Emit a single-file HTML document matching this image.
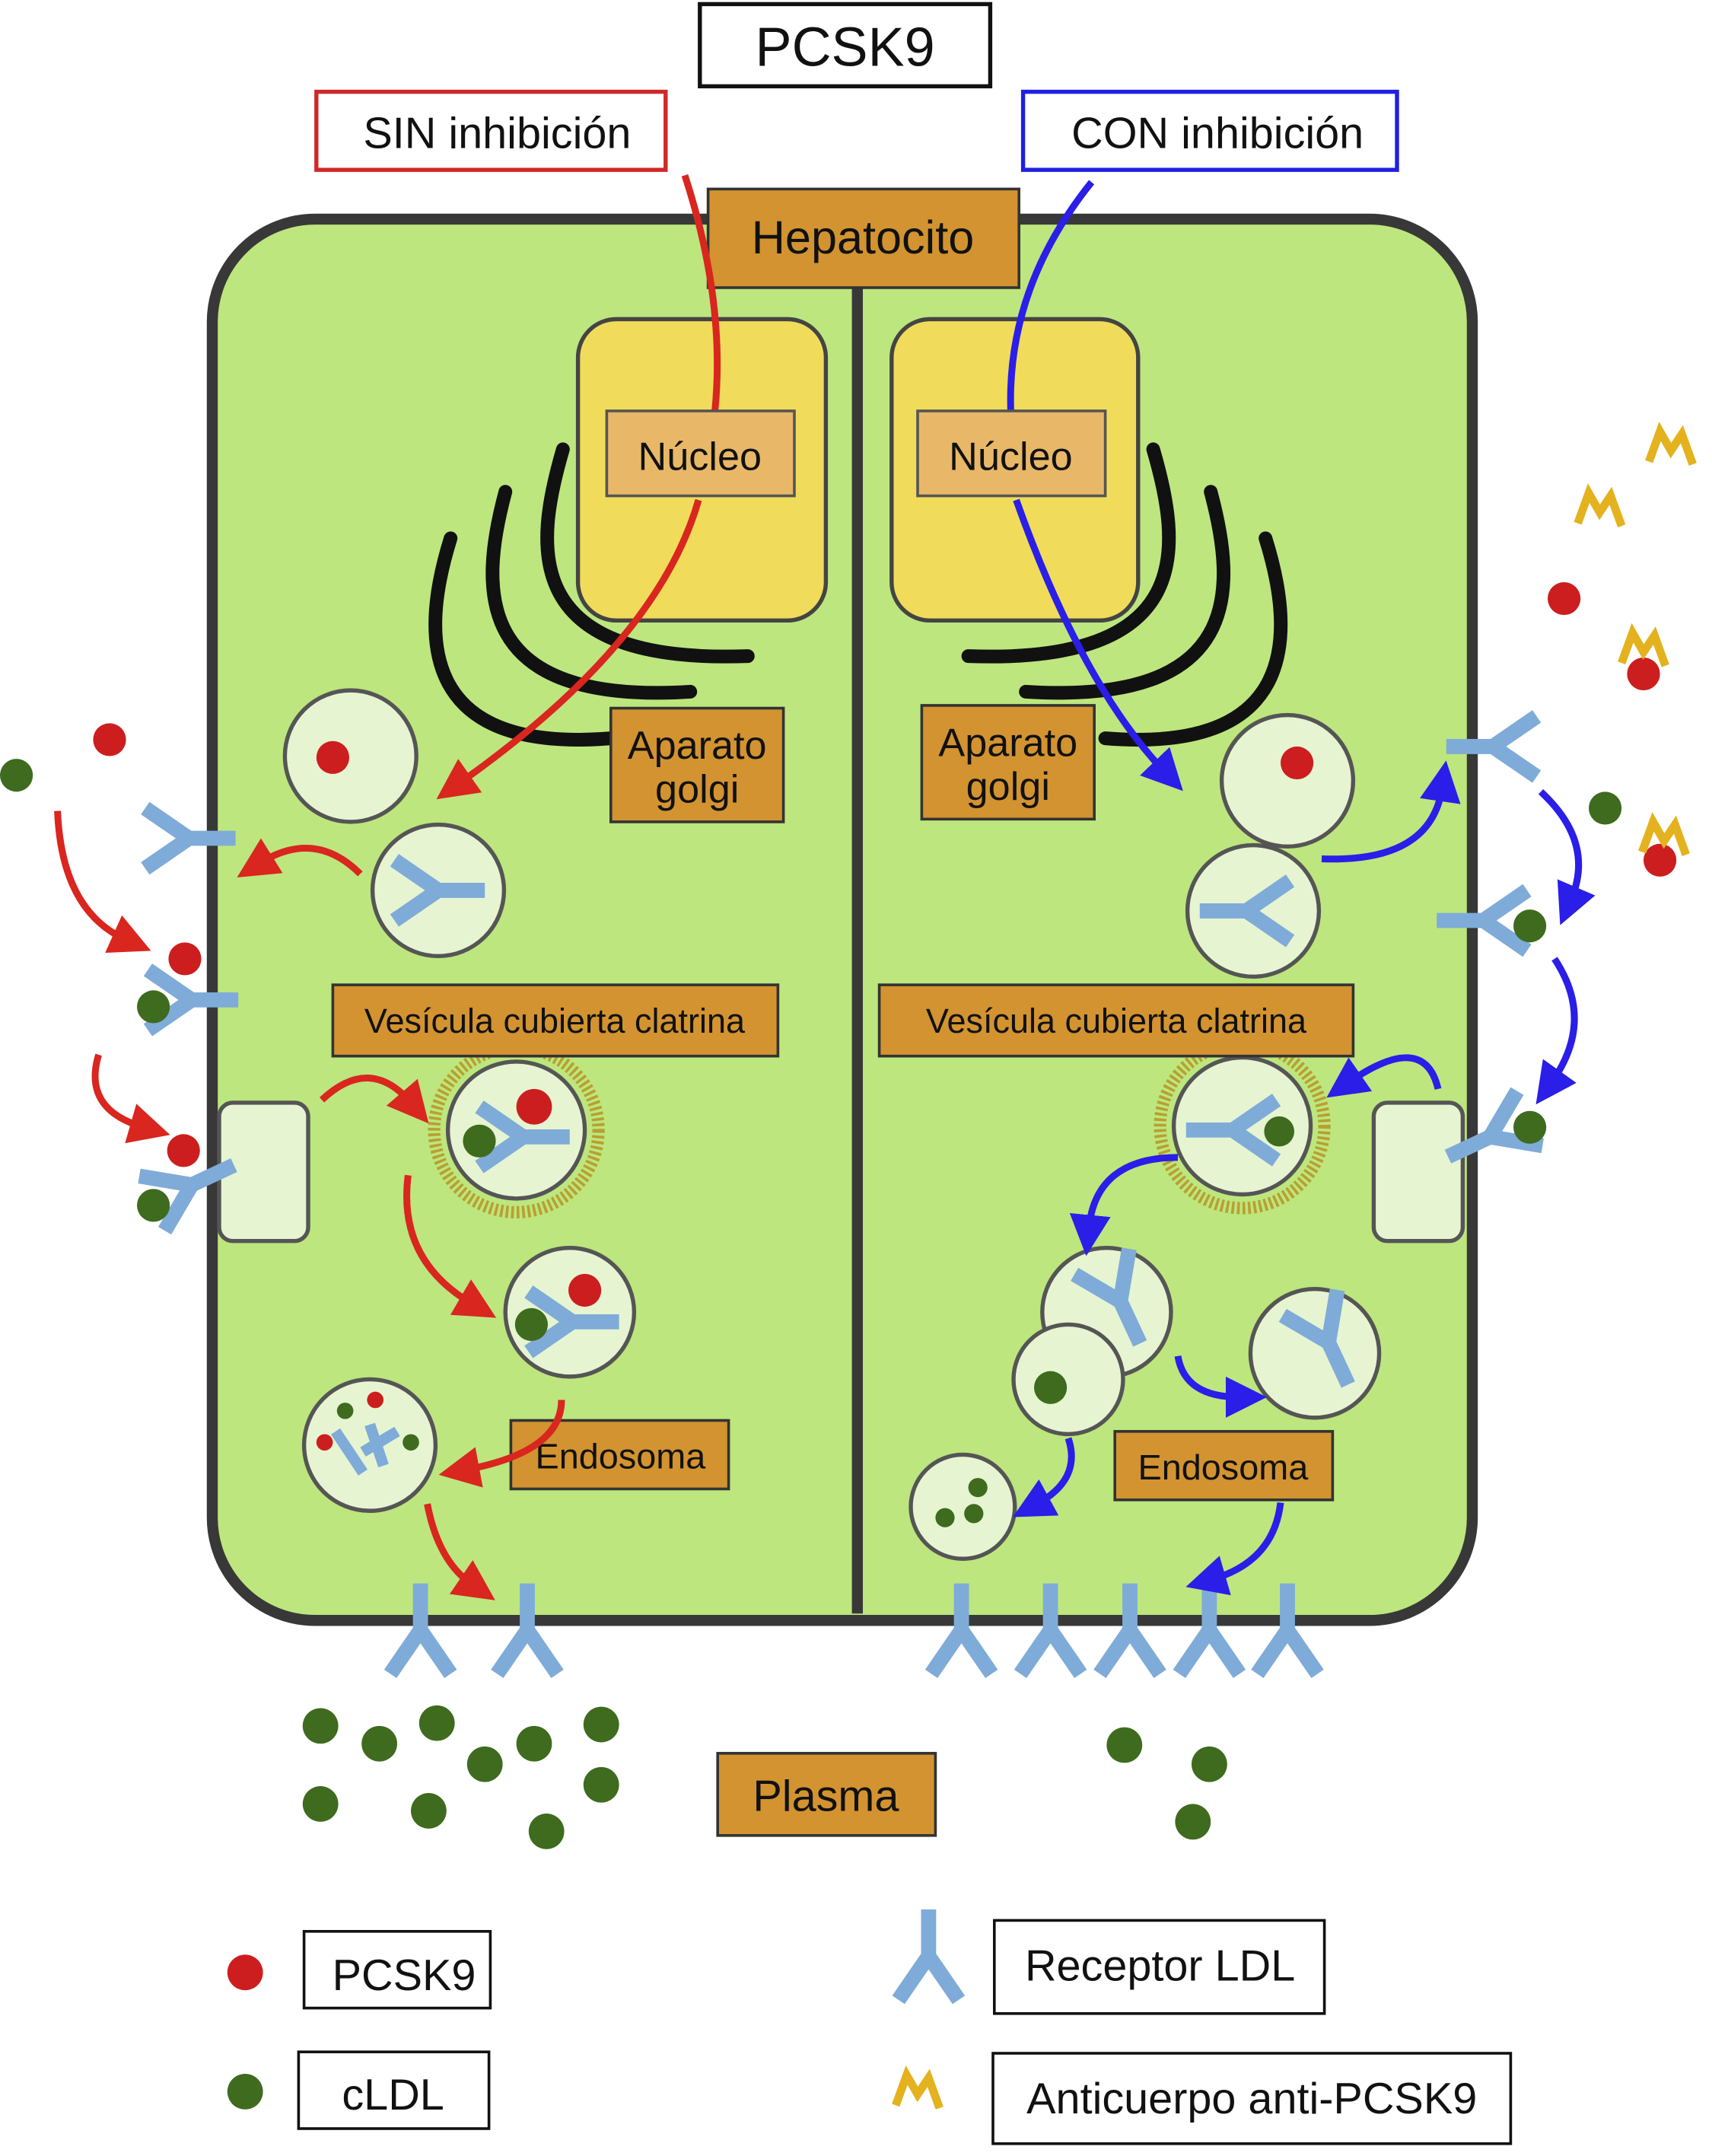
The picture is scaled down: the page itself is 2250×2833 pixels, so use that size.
<!DOCTYPE html>
<html><head><meta charset="utf-8"><style>html,body{margin:0;padding:0;background:#fff}svg{display:block}text{font-family:"Liberation Sans",sans-serif;fill:#111}</style></head><body>
<svg width="2250" height="2833" viewBox="0 0 1250 1574" preserveAspectRatio="none" xmlns="http://www.w3.org/2000/svg">
<defs>
<marker id="ar" markerWidth="6" markerHeight="6" refX="2" refY="3" orient="auto" markerUnits="strokeWidth"><path d="M0,0 L6,3 L0,6 z" fill="#d9261f"/></marker>
<marker id="ab" markerWidth="6" markerHeight="6" refX="2" refY="3" orient="auto" markerUnits="strokeWidth"><path d="M0,0 L6,3 L0,6 z" fill="#2a1ee8"/></marker>
<g id="rc"><path d="M0,-34 L0,0 M0,0 L-22,32 M0,0 L22,32" stroke="#7fabd8" stroke-width="11" fill="none"/></g>
<g id="ab1"><path d="M-16,12 L-8,-10 L0,4 L8,-8 L16,14" stroke="#e3b21e" stroke-width="6" fill="none" stroke-linejoin="miter"/></g>
</defs>
<rect x="511" y="3" width="212" height="60" fill="#fff" stroke="#111" stroke-width="3"/>
<text x="617" y="48" font-size="40" text-anchor="middle">PCSK9</text>
<rect x="231" y="67" width="255" height="57" fill="#fff" stroke="#d02828" stroke-width="3"/>
<text x="363" y="108" font-size="32" text-anchor="middle">SIN inhibición</text>
<rect x="747" y="67" width="273" height="57" fill="#fff" stroke="#2020e0" stroke-width="3"/>
<text x="889" y="108" font-size="32" text-anchor="middle">CON inhibición</text>
<rect x="155" y="160" width="920" height="1023" rx="75" fill="#bde67e" stroke="#383838" stroke-width="8"/>
<line x1="626" y1="205" x2="626" y2="1178" stroke="#383838" stroke-width="8"/>
<rect x="517" y="138" width="227" height="72" fill="#d29330" stroke="#333" stroke-width="2"/>
<text x="630" y="185" font-size="34" text-anchor="middle">Hepatocito</text>
<rect x="422" y="233" width="181" height="220" rx="28" fill="#f0dc5a" stroke="#444" stroke-width="3"/>
<rect x="651" y="233" width="180" height="220" rx="28" fill="#f0dc5a" stroke="#444" stroke-width="3"/>
<path d="M500,128 Q530,220 522,300" fill="none" stroke="#d9261f" stroke-width="5"/>
<path d="M797,133 Q735,210 738,300" fill="none" stroke="#2a1ee8" stroke-width="5"/>
<rect x="443" y="300" width="137" height="62" fill="#e8b868" stroke="#555" stroke-width="2"/>
<rect x="670" y="300" width="137" height="62" fill="#e8b868" stroke="#555" stroke-width="2"/>
<text x="511" y="343" font-size="29" text-anchor="middle">Núcleo</text>
<text x="738" y="343" font-size="29" text-anchor="middle">Núcleo</text>
<g stroke="#111" stroke-width="10" fill="none" stroke-linecap="round">
<path d="M411,328 C390,400 380,485 546,479"/>
<path d="M369,359 C350,430 345,515 504,505"/>
<path d="M329,393 C305,470 310,550 446,539"/>
<path d="M842,328 C863,400 873,485 707,479"/>
<path d="M884,359 C903,430 908,515 749,505"/>
<path d="M924,393 C948,470 943,550 807,539"/>
</g>
<rect x="446" y="517" width="126" height="83" fill="#d29330" stroke="#333" stroke-width="2"/>
<text x="509" y="554" font-size="29" text-anchor="middle">Aparato</text><text x="509" y="586" font-size="29" text-anchor="middle">golgi</text>
<rect x="673" y="515" width="126" height="83" fill="#d29330" stroke="#333" stroke-width="2"/>
<text x="736" y="552" font-size="29" text-anchor="middle">Aparato</text><text x="736" y="584" font-size="29" text-anchor="middle">golgi</text>
<g fill="#e6f4d2" stroke="#555" stroke-width="3">
<circle cx="256" cy="552" r="48"/><circle cx="320" cy="650" r="48"/>
<circle cx="940" cy="570" r="48"/><circle cx="915" cy="665" r="48"/>
<circle cx="416" cy="958" r="47"/><circle cx="270" cy="1055" r="48"/>
<circle cx="808" cy="958" r="47"/><circle cx="960" cy="988" r="47"/><circle cx="780" cy="1007" r="40"/><circle cx="703" cy="1100" r="38"/>
<rect x="160" y="805" width="65" height="101" rx="10"/><rect x="1003" y="805" width="65" height="101" rx="10"/>
</g>
<g fill="none" stroke="#b8a030" stroke-width="9" stroke-dasharray="2 2"><circle cx="377" cy="825" r="60"/><circle cx="907" cy="822" r="60"/></g>
<circle cx="377" cy="825" r="50" fill="#e6f4d2" stroke="#555" stroke-width="3"/>
<circle cx="907" cy="822" r="50" fill="#e6f4d2" stroke="#555" stroke-width="3"/>
<rect x="243" y="719" width="325" height="52" fill="#d29330" stroke="#333" stroke-width="2"/>
<text x="405" y="754" font-size="25" text-anchor="middle">Vesícula cubierta clatrina</text>
<rect x="642" y="719" width="346" height="52" fill="#d29330" stroke="#333" stroke-width="2"/>
<text x="815" y="754" font-size="25" text-anchor="middle">Vesícula cubierta clatrina</text>
<rect x="373" y="1037" width="159" height="50" fill="#d29330" stroke="#333" stroke-width="2"/>
<text x="453" y="1072" font-size="26" text-anchor="middle">Endosoma</text>
<rect x="814" y="1045" width="159" height="50" fill="#d29330" stroke="#333" stroke-width="2"/>
<text x="893" y="1080" font-size="26" text-anchor="middle">Endosoma</text>
<use href="#rc" transform="translate(320,650) rotate(90)"/>
<use href="#rc" transform="translate(910,665) rotate(-90)"/>
<use href="#rc" transform="translate(382,830) rotate(90)"/>
<use href="#rc" transform="translate(900,825) rotate(-90)"/>
<use href="#rc" transform="translate(418,965) rotate(90)"/>
<use href="#rc" transform="translate(818,950) rotate(155)"/>
<use href="#rc" transform="translate(970,980) rotate(155)"/>
<use href="#rc" transform="translate(138,612) rotate(90)"/>
<use href="#rc" transform="translate(140,730) rotate(90)"/>
<use href="#rc" transform="translate(140,865) rotate(65)"/>
<use href="#rc" transform="translate(1090,545) rotate(-90)"/>
<use href="#rc" transform="translate(1083,672) rotate(-90)"/>
<use href="#rc" transform="translate(1088,830) rotate(-115)"/>
<g><use href="#rc" transform="translate(307,1190)"/><use href="#rc" transform="translate(385,1190)"/>
<use href="#rc" transform="translate(702,1190)"/><use href="#rc" transform="translate(767,1190)"/><use href="#rc" transform="translate(825,1190)"/><use href="#rc" transform="translate(883,1190)"/><use href="#rc" transform="translate(940,1190)"/></g>
<g fill="#cc1e1e"><circle cx="243" cy="553" r="12"/><circle cx="947" cy="557" r="12"/><circle cx="390" cy="808" r="13"/><circle cx="427" cy="942" r="12"/><circle cx="80" cy="540" r="12"/><circle cx="135" cy="700" r="12"/><circle cx="134" cy="840" r="12"/><circle cx="1142" cy="437" r="12"/><circle cx="1200" cy="492" r="12"/><circle cx="1212" cy="628" r="12"/><circle cx="274" cy="1022" r="6"/><circle cx="237" cy="1053" r="6"/><circle cx="179" cy="1440" r="13"/></g>
<g fill="#3e6b1e"><circle cx="350" cy="833" r="12"/><circle cx="388" cy="967" r="12"/><circle cx="934" cy="826" r="11"/><circle cx="767" cy="1013" r="12"/><circle cx="690" cy="1108" r="7"/><circle cx="711" cy="1105" r="7"/><circle cx="714" cy="1086" r="7"/><circle cx="252" cy="1030" r="6"/><circle cx="300" cy="1053" r="6"/>
<circle cx="12" cy="566" r="12"/><circle cx="112" cy="735" r="12"/><circle cx="112" cy="880" r="12"/><circle cx="1172" cy="590" r="12"/><circle cx="1117" cy="676" r="12"/><circle cx="1117" cy="823" r="12"/>
<circle cx="234" cy="1260" r="13"/><circle cx="277" cy="1273" r="13"/><circle cx="319" cy="1258" r="13"/><circle cx="354" cy="1288" r="13"/><circle cx="390" cy="1273" r="13"/><circle cx="439" cy="1259" r="13"/><circle cx="234" cy="1317" r="13"/><circle cx="313" cy="1322" r="13"/><circle cx="399" cy="1337" r="13"/><circle cx="439" cy="1303" r="13"/>
<circle cx="821" cy="1274" r="13"/><circle cx="883" cy="1288" r="13"/><circle cx="871" cy="1330" r="13"/><circle cx="179" cy="1527" r="13"/></g>
<g stroke="#7fabd8" stroke-width="8"><line x1="245" y1="1045" x2="265" y2="1075"/><line x1="265" y1="1060" x2="290" y2="1045"/><line x1="270" y1="1040" x2="280" y2="1070"/></g>
<use href="#ab1" transform="translate(1220,325)"/><use href="#ab1" transform="translate(1168,370)"/><use href="#ab1" transform="translate(1200,472)"/><use href="#ab1" transform="translate(1215,610)"/><use href="#ab1" transform="translate(670,1525)"/>
<g fill="none" stroke="#d9261f" stroke-width="5" marker-end="url(#ar)">
<path d="M510,365 Q480,470 335,572"/>
<path d="M263,638 Q230,605 190,630"/><path d="M42,592 Q45,665 92,686"/>
<path d="M72,770 Q60,810 105,823"/><path d="M235,803 Q270,770 300,805"/>
<path d="M298,858 Q290,920 345,952"/><path d="M410,1022 Q410,1060 340,1073"/>
<path d="M312,1098 Q320,1140 345,1157"/>
</g>
<g fill="none" stroke="#2a1ee8" stroke-width="5" marker-end="url(#ab)">
<path d="M742,365 Q790,500 850,563"/>
<path d="M965,627 Q1045,630 1053,575"/><path d="M1125,578 Q1165,615 1147,657"/>
<path d="M1135,700 Q1165,745 1133,790"/><path d="M1050,795 Q1040,752 985,790"/>
<path d="M860,845 Q800,845 795,897"/><path d="M860,990 Q865,1020 905,1020"/>
<path d="M780,1050 Q790,1080 757,1098"/><path d="M935,1097 Q930,1140 885,1153"/>
</g>
<rect x="524" y="1280" width="159" height="60" fill="#d29330" stroke="#333" stroke-width="2"/>
<text x="603" y="1322" font-size="32" text-anchor="middle">Plasma</text>
<g fill="#fff" stroke="#111" stroke-width="2"><rect x="222" y="1410" width="136" height="56"/><rect x="218" y="1498" width="139" height="56"/><rect x="726" y="1402" width="241" height="68"/><rect x="725" y="1499" width="378" height="66"/></g>
<text x="295" y="1453" font-size="32" text-anchor="middle">PCSK9</text>
<text x="287" y="1540" font-size="32" text-anchor="middle">cLDL</text>
<text x="847" y="1446" font-size="32" text-anchor="middle">Receptor LDL</text>
<text x="914" y="1543" font-size="32" text-anchor="middle">Anticuerpo anti-PCSK9</text>
<use href="#rc" transform="translate(678,1428)"/>
</svg>
</body></html>
